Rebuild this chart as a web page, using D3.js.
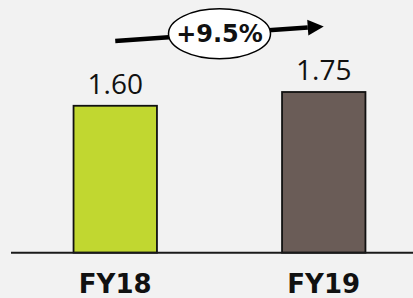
<!DOCTYPE html>
<html lang="en">
<head>
    <meta charset="UTF-8">
    <title>FY18 vs FY19</title>
    <script src="https://d3js.org/d3.v7.min.js"></script>
    <style>
        body { margin: 0; padding: 0; background: #f2f2f2; }
        svg { display: block; }
        .value { font-family: "Open Sans", sans-serif; font-size: 28px; fill: #111; }
        .cat { font-family: "DejaVu Sans", sans-serif; font-weight: bold; font-size: 26px; fill: #111; }
        .growth { font-family: "DejaVu Sans", sans-serif; font-weight: bold; font-size: 24px; fill: #111; }
    </style>
</head>
<body>
    <div id="chart"></div>
    <script>
        const categories = ["FY18", "FY19"];
        const values = [1.60, 1.75];
        const colors = ["#c1d730", "#6a5c57"];
        const growthLabel = "+9.5%";

        const width = 413;
        const height = 298;
        const baseY = 252.7;

        const svg = d3.select("#chart")
            .append("svg")
            .attr("width", width)
            .attr("height", height);

        svg.append("rect")
            .attr("width", width)
            .attr("height", height)
            .attr("fill", "#f2f2f2");

        const x = d3.scaleBand()
            .domain(categories)
            .range([11, 428])
            .paddingInner(0.6)
            .paddingOuter(0.3);

        const y = d3.scaleLinear()
            .domain([0, 1.75])
            .range([baseY, 92]);

        // bars
        svg.append("g")
            .selectAll("rect")
            .data(categories)
            .enter().append("rect")
            .attr("x", d => x(d))
            .attr("y", (d, i) => y(values[i]))
            .attr("width", x.bandwidth())
            .attr("height", (d, i) => baseY - y(values[i]))
            .attr("fill", (d, i) => colors[i])
            .attr("stroke", "#111")
            .attr("stroke-width", 1.8);

        // baseline
        svg.append("line")
            .attr("x1", 11)
            .attr("x2", width)
            .attr("y1", baseY)
            .attr("y2", baseY)
            .attr("stroke", "#1a1a1a")
            .attr("stroke-width", 2);

        // value labels
        svg.append("g")
            .selectAll("text")
            .data(categories)
            .enter().append("text")
            .attr("class", "value")
            .attr("x", d => x(d) + x.bandwidth() / 2)
            .attr("y", (d, i) => y(values[i]) - 12)
            .attr("text-anchor", "middle")
            .text((d, i) => values[i].toFixed(2));

        // category labels
        svg.append("g")
            .selectAll("text")
            .data(categories)
            .enter().append("text")
            .attr("class", "cat")
            .attr("x", d => x(d) + x.bandwidth() / 2)
            .attr("y", 293)
            .attr("text-anchor", "middle")
            .text(d => d);

        // growth arrow
        const x0 = x(categories[0]) + x.bandwidth() / 2;
        const x1 = x(categories[1]) + x.bandwidth() / 2;
        const y0 = 41, y1 = 26.5;
        const ang = Math.atan2(y1 - y0, x1 - x0);
        const headLen = 16, headHalf = 8;
        const bx = x1 - headLen * Math.cos(ang);
        const by = y1 - headLen * Math.sin(ang);

        svg.append("line")
            .attr("x1", x0).attr("y1", y0)
            .attr("x2", bx).attr("y2", by)
            .attr("stroke", "#000")
            .attr("stroke-width", 4.5);

        const nx = -Math.sin(ang), ny = Math.cos(ang);
        svg.append("path")
            .attr("d", d3.line()([
                [x1, y1],
                [bx + nx * headHalf, by + ny * headHalf],
                [bx - nx * headHalf, by - ny * headHalf]
            ]) + "Z")
            .attr("fill", "#000");

        const cx = (x0 + x1) / 2;
        const cy = (y0 + y1) / 2;
        svg.append("ellipse")
            .attr("cx", cx)
            .attr("cy", cy)
            .attr("rx", 51)
            .attr("ry", 25)
            .attr("fill", "#fff")
            .attr("stroke", "#000")
            .attr("stroke-width", 1.5);

        svg.append("text")
            .attr("class", "growth")
            .attr("x", cx)
            .attr("y", cy + 8.7)
            .attr("text-anchor", "middle")
            .text(growthLabel);
    </script>
</body>
</html>
